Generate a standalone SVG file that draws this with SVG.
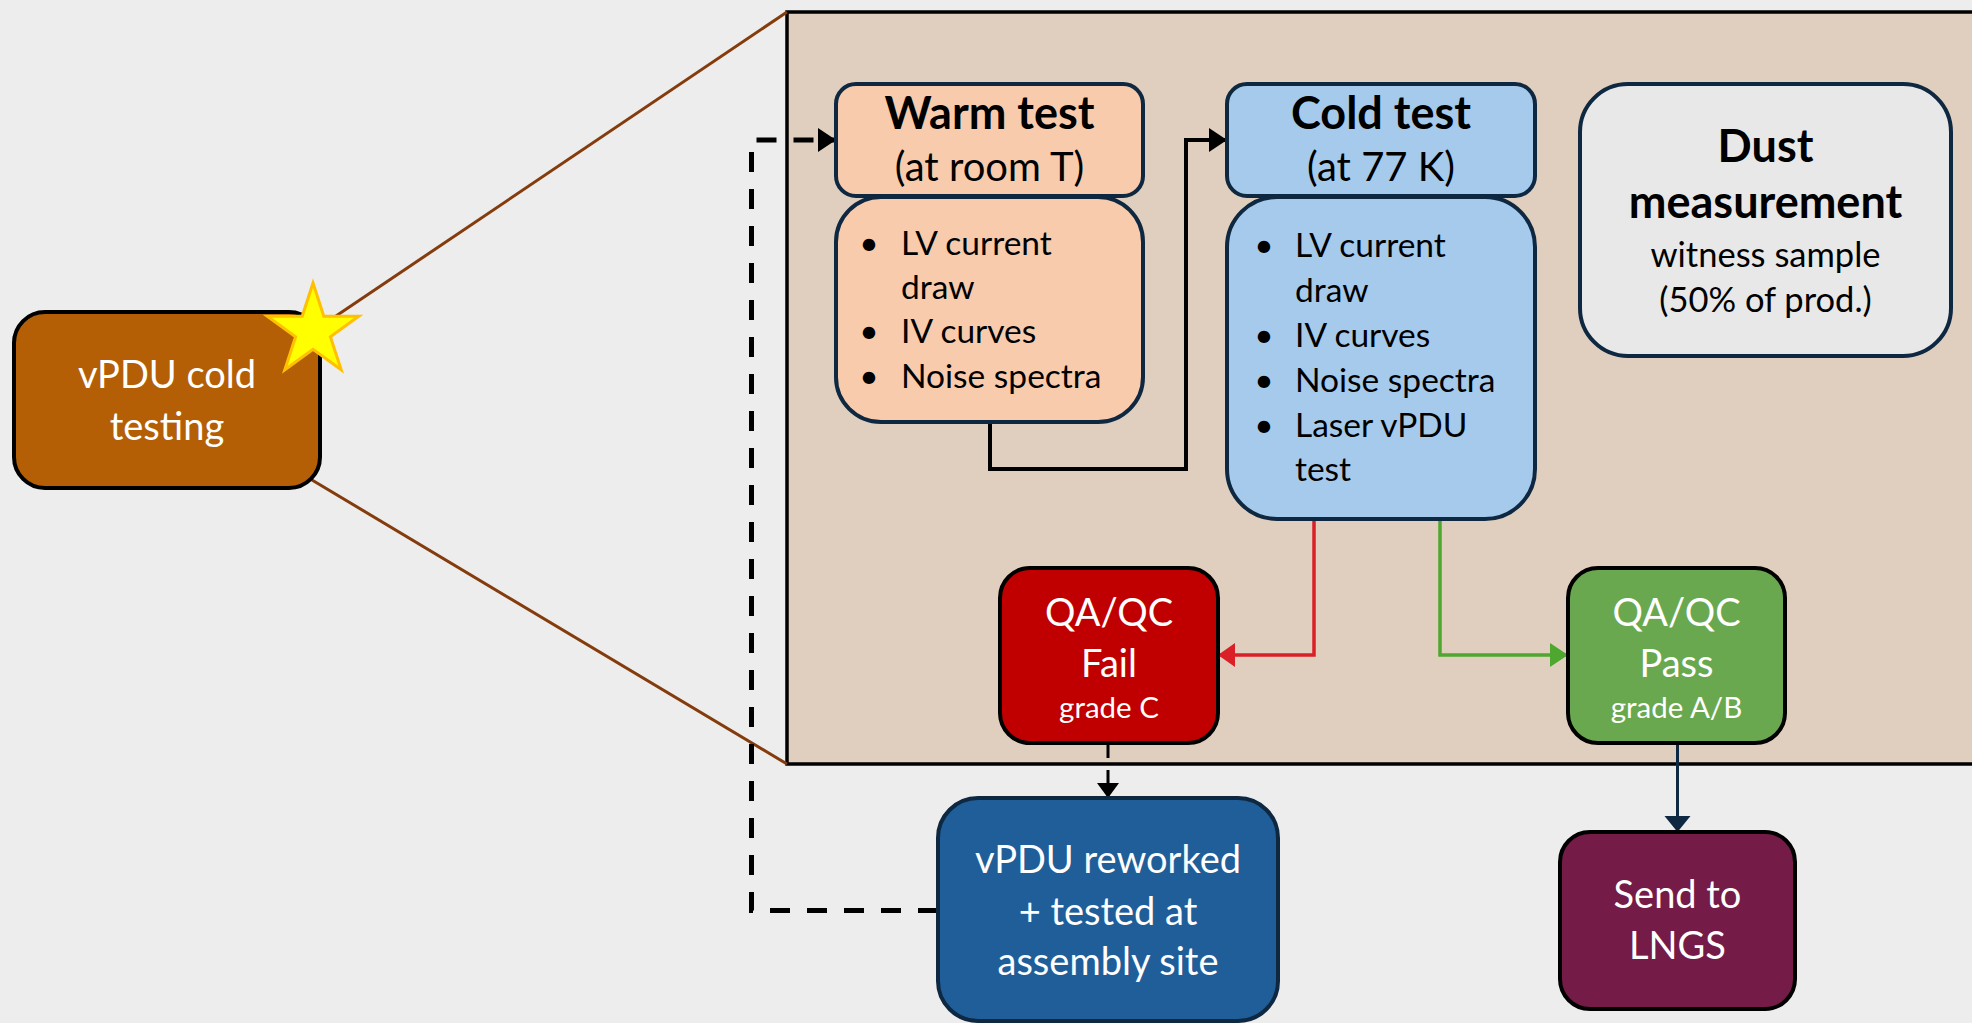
<svg xmlns="http://www.w3.org/2000/svg" width="1972" height="1023" viewBox="0 0 1972 1023">
<defs>
<style>
text{font-family:Lato,"Open Sans","Liberation Sans",sans-serif}
.w{fill:#fff;font-size:38px;text-anchor:middle}
.g{fill:#fff;font-size:29.5px;text-anchor:middle}
.t{fill:#000;font-size:45px;font-weight:bold;text-anchor:middle}
.s{fill:#000;font-size:40px;text-anchor:middle}
.b{fill:#000;font-size:33.5px}
.d{fill:#000;font-size:34.5px;text-anchor:middle}
.nv{stroke:#0E2841;stroke-width:4}
.bk{stroke:#000;stroke-width:4}
</style>
<marker id="ab" markerUnits="userSpaceOnUse" markerWidth="20" markerHeight="26" refX="18" refY="12" orient="auto"><path d="M0,0 L18,12 L0,24 Z" fill="#000"/></marker>
<marker id="ar" markerUnits="userSpaceOnUse" markerWidth="20" markerHeight="26" refX="17" refY="12" orient="auto"><path d="M0,0 L17,12 L0,24 Z" fill="#DA1F26"/></marker>
<marker id="ag" markerUnits="userSpaceOnUse" markerWidth="20" markerHeight="26" refX="18" refY="12" orient="auto"><path d="M0,0 L18,12 L0,24 Z" fill="#4EA72E"/></marker>
<marker id="an" markerUnits="userSpaceOnUse" markerWidth="20" markerHeight="28" refX="16" refY="13" orient="auto"><path d="M0,0 L16,13 L0,26 Z" fill="#0E2841"/></marker>
<marker id="ad" markerUnits="userSpaceOnUse" markerWidth="20" markerHeight="26" refX="15" refY="11" orient="auto"><path d="M0,0 L15,11 L0,22 Z" fill="#000"/></marker>
</defs>
<rect x="0" y="0" width="1972" height="1023" fill="#EDEDED"/>
<g id="panel">
<rect x="787" y="12" width="1300" height="752" fill="#E0CFBE" stroke="#000" stroke-width="3.5"/>
</g>
<g id="zoom-lines" stroke="#843C0C" stroke-width="3" fill="none">
<line x1="336" y1="316" x2="787" y2="12"/>
<line x1="312" y1="480" x2="787" y2="764"/>
</g>
<g id="connectors" fill="none">
<path d="M938,910.5 H751.5 V140 H836" stroke="#000" stroke-width="5" stroke-dasharray="20 17" marker-end="url(#ab)"/>
<path d="M990,422 V469 H1186 V140 H1227" stroke="#000" stroke-width="4" marker-end="url(#ab)"/>
<path d="M1314,519 V655 H1218" stroke="#DA1F26" stroke-width="3.5" marker-end="url(#ar)"/>
<path d="M1440,519 V655 H1568" stroke="#4EA72E" stroke-width="3.5" marker-end="url(#ag)"/>
<path d="M1108,745 V798" stroke="#000" stroke-width="3" stroke-dasharray="13 12" marker-end="url(#ad)"/>
<path d="M1677.5,745 V832" stroke="#0E2841" stroke-width="3" marker-end="url(#an)"/>
</g>
<g id="vpdu-cold-testing">
<rect x="14" y="312" width="306" height="176" rx="31" fill="#B45F06" class="bk"/>
<text class="w" x="167" y="388">vPDU cold</text>
<text class="w" x="167" y="440">testing</text>
<polygon points="313,283 323.8,316.2 358.7,316.2 330.4,336.7 341.2,369.8 313,349.3 284.8,369.8 295.6,336.7 267.3,316.2 302.2,316.2" fill="#FFFF00" stroke="#FFC000" stroke-width="3"/>
</g>
<g id="warm-test">
<rect x="836" y="84" width="307" height="112" rx="20" fill="#F8CBAD" class="nv"/>
<rect x="836" y="197" width="307" height="225" rx="45" fill="#F8CBAD" class="nv"/>
<text class="t" x="989.5" y="129">Warm test</text>
<text class="s" x="989.5" y="181">(at room T)</text>
<text class="b" x="869" y="255" text-anchor="middle">•</text>
<text class="b" x="901" y="255">LV current</text>
<text class="b" x="901" y="299">draw</text>
<text class="b" x="869" y="343" text-anchor="middle">•</text>
<text class="b" x="901" y="343">IV curves</text>
<text class="b" x="869" y="388" text-anchor="middle">•</text>
<text class="b" x="901" y="388">Noise spectra</text>
</g>
<g id="cold-test">
<rect x="1227" y="84" width="308" height="112" rx="20" fill="#A6CAEC" class="nv"/>
<rect x="1227" y="197" width="308" height="322" rx="50" fill="#A6CAEC" class="nv"/>
<text class="t" x="1381" y="129">Cold test</text>
<text class="s" x="1381" y="181">(at 77 K)</text>
<text class="b" x="1264" y="257" text-anchor="middle">•</text>
<text class="b" x="1295" y="257">LV current</text>
<text class="b" x="1295" y="302">draw</text>
<text class="b" x="1264" y="347" text-anchor="middle">•</text>
<text class="b" x="1295" y="347">IV curves</text>
<text class="b" x="1264" y="392" text-anchor="middle">•</text>
<text class="b" x="1295" y="392">Noise spectra</text>
<text class="b" x="1264" y="437" text-anchor="middle">•</text>
<text class="b" x="1295" y="437">Laser vPDU</text>
<text class="b" x="1295" y="481">test</text>
</g>
<g id="dust-measurement">
<rect x="1580" y="84" width="371" height="272" rx="48" fill="#E8E8E8" class="nv"/>
<text class="t" x="1765.5" y="162">Dust</text>
<text class="t" x="1765.5" y="218">measurement</text>
<text class="d" x="1765.5" y="267">witness sample</text>
<text class="d" x="1765.5" y="312">(50% of prod.)</text>
</g>
<g id="qa-fail">
<rect x="1000" y="568" width="218" height="175" rx="30" fill="#C00000" class="bk"/>
<text class="w" x="1109" y="626">QA/QC</text>
<text class="w" x="1109" y="677">Fail</text>
<text class="g" x="1109" y="718">grade C</text>
</g>
<g id="qa-pass">
<rect x="1568" y="568" width="217" height="175" rx="30" fill="#6AA84F" class="bk"/>
<text class="w" x="1676.5" y="626">QA/QC</text>
<text class="w" x="1676.5" y="677">Pass</text>
<text class="g" x="1676.5" y="718">grade A/B</text>
</g>
<g id="rework">
<rect x="938" y="798" width="340" height="223" rx="40" fill="#1F5E99" class="nv"/>
<text class="w" x="1108" y="873">vPDU reworked</text>
<text class="w" x="1108" y="925">+ tested at</text>
<text class="w" x="1108" y="975">assembly site</text>
</g>
<g id="send-lngs">
<rect x="1560" y="832" width="235" height="177" rx="30" fill="#741B47" class="bk"/>
<text class="w" x="1677.5" y="908">Send to</text>
<text class="w" x="1677.5" y="959">LNGS</text>
</g>
</svg>
